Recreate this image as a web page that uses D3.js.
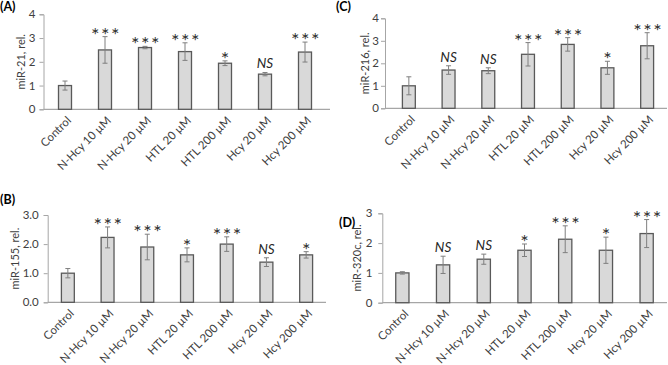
<!DOCTYPE html>
<html><head><meta charset="utf-8">
<script src="https://cdn.jsdelivr.net/npm/d3@7"></script>
<style>
body{margin:0;background:#fff;}
svg{display:block;}
text{font-family:Lato,"Open Sans",sans-serif;}
</style></head>
<body><svg id="c" width="668" height="365"></svg>
<script>
const categories = ["Control","N-Hcy 10 µM","N-Hcy 20 µM","HTL 20 µM","HTL 200 µM","Hcy 20 µM","Hcy 200 µM"];

const miR21 = [1.0, 2.5, 2.6, 2.43, 1.94, 1.48, 2.41];
const miR21Err = [0.19, 0.56, 0.05, 0.37, 0.1, 0.07, 0.42];
const miR21Sig = ["", "***", "***", "***", "*", "NS", "***"];

const miR155 = [1.0, 2.23, 1.9, 1.63, 2.0, 1.38, 1.63];
const miR155Err = [0.16, 0.36, 0.44, 0.24, 0.25, 0.15, 0.11];
const miR155Sig = ["", "***", "***", "*", "***", "NS", "*"];

const miR216 = [1.0, 1.7, 1.67, 2.4, 2.84, 1.8, 2.78];
const miR216Err = [0.4, 0.19, 0.13, 0.52, 0.3, 0.29, 0.58];
const miR216Sig = ["", "NS", "NS", "***", "***", "*", "***"];

const miR320c = [1.0, 1.27, 1.46, 1.76, 2.13, 1.76, 2.32];
const miR320cErr = [0.04, 0.29, 0.17, 0.21, 0.45, 0.44, 0.47];
const miR320cSig = ["", "NS", "NS", "*", "***", "*", "***"];

const ticks4 = [0,1,2,3,4];
const ticks3 = [0,1,2,3];

const panels = [
  {tag:"(A)", title:"miR-21, rel.", vals:miR21, err:miR21Err, sig:miR21Sig, max:4, ticks:ticks4, fmt:d3.format("d"),
   lab:[0,11], ax:43.5, band:[45,325], axEnd:330, y0:109.3, yT:14.3, titleX:21, pad:4},
  {tag:"(B)", title:"miR-155, rel.", vals:miR155, err:miR155Err, sig:miR155Sig, max:3, ticks:ticks3, fmt:d3.format(".1f"),
   lab:[0,204], ax:47.7, band:[48,326], axEnd:326, y0:302.3, yT:215, titleX:15, pad:5},
  {tag:"(C)", title:"miR-216, rel.", vals:miR216, err:miR216Err, sig:miR216Sig, max:4, ticks:ticks4, fmt:d3.format("d"),
   lab:[336,11], ax:385, band:[389,667], axEnd:667, y0:108.3, yT:18.3, titleX:365, pad:2},
  {tag:"(D)", title:"miR-320c, rel.", vals:miR320c, err:miR320cErr, sig:miR320cSig, max:3, ticks:ticks3, fmt:d3.format("d"),
   lab:[339,227], ax:382.3, band:[382,667], axEnd:667, y0:302.7, yT:213.3, titleX:357, pad:6}
];

const svg = d3.select("#c");
const textCol = "#404040", axisCol = "#a6a6a6";

panels.forEach(p => {
  const g = svg.append("g");
  const x = d3.scaleBand().domain(categories).range(p.band).paddingInner(0.675).paddingOuter(0.3375);
  const y = d3.scaleLinear().domain([0, p.max]).range([p.y0, p.yT]);

  g.append("text").attr("x", p.lab[0]).attr("y", p.lab[1]).text(p.tag)
    .attr("font-family","'Liberation Sans',Arial,sans-serif").attr("font-weight","bold").attr("font-size",12.5).attr("fill","#000");

  // y axis
  const ya = g.append("g").attr("transform",`translate(${p.ax},0)`)
    .call(d3.axisLeft(y).tickValues(p.ticks).tickFormat(p.fmt).tickSize(4).tickPadding(p.pad));
  ya.select(".domain").attr("stroke", axisCol).attr("stroke-width",1);
  ya.selectAll(".tick line").attr("stroke", axisCol);
  ya.selectAll(".tick text").attr("fill", textCol).attr("font-size",11.5).attr("font-family","Lato,sans-serif");

  g.append("text").attr("transform",`translate(${p.titleX},${(p.y0+p.yT)/2}) rotate(-90)`)
    .attr("text-anchor","middle").attr("dy","0.35em").attr("font-size",11).attr("fill",textCol).text(p.title);

  // x axis line
  g.append("line").attr("x1",p.ax).attr("x2",p.axEnd).attr("y1",p.y0).attr("y2",p.y0)
    .attr("stroke", axisCol).attr("stroke-width",1.3);

  // bars
  g.selectAll("rect.bar").data(p.vals).join("rect")
    .attr("x",(d,i)=>x(categories[i])).attr("width",x.bandwidth())
    .attr("y",d=>y(d)).attr("height",d=>p.y0-y(d))
    .attr("fill","#d9d9d9").attr("stroke","#595959").attr("stroke-width",1.3);

  // error bars
  const cx = i => x(categories[i]) + x.bandwidth()/2;
  p.vals.forEach((v,i)=>{
    const e = p.err[i];
    const t = y(v+e), b = y(v-e);
    g.append("line").attr("x1",cx(i)).attr("x2",cx(i)).attr("y1",t).attr("y2",b).attr("stroke","#7f7f7f").attr("stroke-width",1);
    [t,b].forEach(yy=>g.append("line").attr("x1",cx(i)-2.5).attr("x2",cx(i)+2.5).attr("y1",yy).attr("y2",yy).attr("stroke","#7f7f7f").attr("stroke-width",1));
    const s = p.sig[i];
    if (s === "NS") {
      g.append("text").attr("x",cx(i)).attr("y",t-4).attr("text-anchor","middle")
        .attr("font-style","italic").attr("font-size",13.5).attr("fill","#262626").text("NS");
    } else if (s) {
      g.append("text").attr("transform",`translate(${cx(i)+(s.length>1?1:0)},${t+5}) rotate(0.01)`)
        .attr("text-anchor","middle").attr("font-family","'Liberation Sans',Arial,sans-serif")
        .attr("font-size",20).attr("letter-spacing", s.length>1 ? 1.5 : 0).attr("fill","#303030").text(s);
    }
  });

  // x labels
  categories.forEach((c,i)=>{
    g.append("text").attr("transform",`translate(${cx(i)+4},${p.y0+9}) rotate(-45)`)
      .attr("text-anchor","end").attr("dy","0.35em").attr("font-size",11.5).attr("fill",textCol).text(c);
  });
});
</script></body></html>
